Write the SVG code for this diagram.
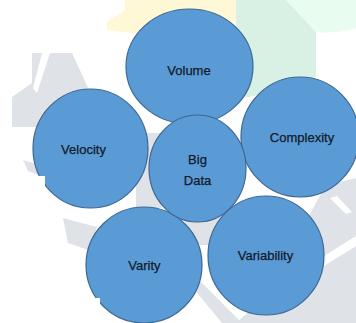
<svg xmlns="http://www.w3.org/2000/svg" width="356" height="323" viewBox="0 0 356 323">
  <style>
    .wm-gray { fill: #dfe3e7; }
    .wm-white { fill: #ffffff; }
    .bubble ellipse { fill: #5b9bd5; stroke: #3b6894; stroke-width: 1.2; }
    .bubble text { font-family: "Liberation Sans", Arial, sans-serif; font-size: 13px; fill: #111a2b; text-anchor: middle; stroke: #111a2b; stroke-width: 0.25; }
  </style>

  <rect width="356" height="323" fill="#ffffff"/>

  <!-- faint background emblem -->
  <g id="backdrop">
    <polygon fill="#fff8d6" points="107,22 125,10 125,0 240,0 240,20 200,30 130,33 107,30"/>
    <polygon fill="#d8f1e4" points="236,0 286,0 316,32 316,77 250,97 236,97"/>
    <path fill="#e8fcf0" d="M286,0 L356,0 L356,28 Q336,34 316,32 Z"/>
    <polygon class="wm-gray" points="32,53 72,53 90,92 40,127 12,127 12,97 32,83"/>
    <polygon class="wm-white" points="42,53 50,53 37,93 33,88"/>
    <polygon class="wm-gray" points="23,160 40,165 46,178 28,171"/>
    <polygon class="wm-gray" points="136,133 162,133 162,208 136,208"/>
    <polygon class="wm-gray" points="182,214 226,214 216,245 194,245"/>
    <polygon class="wm-gray" points="188,282 201,282 242,323 222,323"/>
    <polygon class="wm-gray" points="63,218 97,227 91,251 68,243"/>
    <polygon class="wm-gray" points="326,185 356,178 356,323 236,323 262,300"/>
    <polygon class="wm-white" points="330,198 337,196 352,212 346,214"/>
    <polygon class="wm-white" points="324,256 356,236 356,246 324,266"/>
  </g>

  <g id="volume" class="bubble">
    <ellipse cx="189.5" cy="66.5" rx="63.5" ry="57.5"/>
    <text x="189" y="74.5">Volume</text>
  </g>

  <g id="velocity" class="bubble">
    <ellipse cx="90.5" cy="148.5" rx="57.5" ry="59.5"/>
    <text x="83.5" y="153.5">Velocity</text>
  </g>

  <g id="complexity" class="bubble">
    <ellipse cx="300" cy="137" rx="59" ry="60"/>
    <text x="302" y="142">Complexity</text>
  </g>

  <g id="varity" class="bubble">
    <ellipse cx="144" cy="265" rx="58" ry="58"/>
    <text x="144.5" y="270">Varity</text>
  </g>

  <g id="variability" class="bubble">
    <ellipse cx="266" cy="255.5" rx="58" ry="59.5"/>
    <text x="265.5" y="260">Variability</text>
  </g>

  <g id="big-data" class="bubble">
    <ellipse cx="197.5" cy="168.5" rx="48.5" ry="53.5"/>
    <text x="197.5" y="164">Big</text>
    <text x="197.5" y="185">Data</text>
  </g>

  <!-- blank patches over the lower left edges -->
  <g id="masks">
    <rect class="wm-white" x="0" y="176" width="45" height="44"/>
    <rect class="wm-white" x="0" y="298" width="100" height="25"/>
  </g>

  <g id="connectors"/>
</svg>
